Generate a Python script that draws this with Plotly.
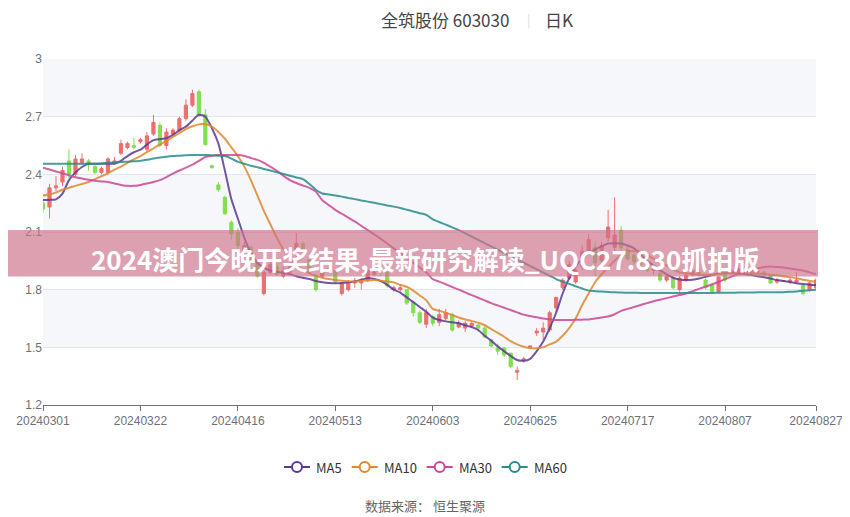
import plotly.graph_objects as go

dates = [
    "20240301", "20240304", "20240305", "20240306", "20240307", "20240308",
    "20240311", "20240312", "20240313", "20240314", "20240315",
    "20240318", "20240319", "20240320", "20240321", "20240322",
    "20240325", "20240326", "20240327", "20240328", "20240329",
    "20240401", "20240402", "20240403", "20240408", "20240409", "20240410",
    "20240411", "20240412", "20240415", "20240416",
    "20240417", "20240418", "20240422", "20240423", "20240424", "20240425",
    "20240426", "20240429", "20240430",
    "20240506", "20240507", "20240508", "20240509", "20240510", "20240513",
    "20240514", "20240515", "20240516", "20240517",
    "20240520", "20240521", "20240522", "20240523", "20240524",
    "20240527", "20240528", "20240529", "20240530", "20240531",
    "20240603", "20240604", "20240605", "20240606", "20240607",
    "20240611", "20240612", "20240613", "20240614",
    "20240617", "20240618", "20240619", "20240620", "20240621",
    "20240624", "20240625", "20240626", "20240628",
    "20240701", "20240702", "20240703", "20240704", "20240705",
    "20240708", "20240709", "20240710", "20240711", "20240712",
    "20240715", "20240716", "20240717", "20240718", "20240719",
    "20240722", "20240723", "20240724", "20240725", "20240726",
    "20240729", "20240730", "20240731", "20240801", "20240802",
    "20240805", "20240806", "20240807", "20240808", "20240809",
    "20240812", "20240813", "20240814", "20240815", "20240816",
    "20240819", "20240820", "20240821", "20240822", "20240823",
    "20240826", "20240827",
]

tick_labels = ["20240301", "20240322", "20240416", "20240513", "20240603",
               "20240625", "20240717", "20240807", "20240827"]

open_ = [2.25, 2.23, 2.33, 2.36, 2.47, 2.40, 2.46, 2.47, 2.44, 2.41,
         2.41, 2.46, 2.51, 2.54, 2.55, 2.57, 2.53, 2.61, 2.655, 2.55,
         2.61, 2.63, 2.69, 2.76, 2.83, 2.71, 2.445, 2.345, 2.28, 2.15,
         2.10, 2.00, 2.02, 1.94, 1.78, 1.89, 1.92, 1.87, 1.89, 1.99,
         2.04, 1.955, 1.87, 1.87, 1.90, 1.90, 1.78, 1.80, 1.835, 1.835,
         1.85, 1.88, 1.90, 1.89, 1.80, 1.80, 1.80, 1.735, 1.68, 1.62,
         1.66, 1.63, 1.65, 1.67, 1.606, 1.60, 1.61, 1.616, 1.60, 1.538,
         1.497, 1.497, 1.47, 1.37, 1.43, 1.50, 1.575, 1.58, 1.59, 1.705,
         1.81, 1.86, 1.84, 1.92, 2.00, 2.02, 1.95, 2.07, 2.02, 2.11,
         2.01, 1.98, 1.94, 1.92, 1.90, 1.886, 1.85, 1.86, 1.80, 1.85,
         1.88, 1.89, 1.85, 1.825, 1.79, 1.886, 1.886, 1.89, 1.91, 1.90,
         1.89, 1.89, 1.876, 1.84, 1.843, 1.84, 1.84, 1.825, 1.80, 1.81]
high = [2.27, 2.35, 2.39, 2.44, 2.53, 2.50, 2.51, 2.48, 2.45, 2.44,
        2.49, 2.49, 2.58, 2.57, 2.59, 2.59, 2.62, 2.71, 2.67, 2.64,
        2.64, 2.70, 2.79, 2.84, 2.84, 2.74, 2.45, 2.36, 2.29, 2.16,
        2.12, 2.05, 2.03, 1.95, 1.90, 1.95, 1.94, 1.92, 1.94, 2.095,
        2.05, 1.96, 1.88, 1.91, 1.93, 1.91, 1.84, 1.85, 1.86, 1.86,
        1.91, 1.90, 1.92, 1.91, 1.82, 1.83, 1.80, 1.74, 1.69, 1.70,
        1.67, 1.70, 1.70, 1.68, 1.64, 1.635, 1.63, 1.62, 1.61, 1.54,
        1.52, 1.50, 1.47, 1.40, 1.45, 1.51, 1.60, 1.63, 1.69, 1.76,
        1.86, 1.95, 1.92, 2.03, 2.09, 2.05, 2.05, 2.215, 2.28, 2.13,
        2.03, 1.99, 1.96, 1.94, 1.92, 1.89, 1.88, 1.87, 1.87, 1.88,
        1.91, 1.91, 1.86, 1.83, 1.87, 1.89, 1.91, 1.93, 1.92, 1.91,
        1.91, 1.90, 1.88, 1.86, 1.85, 1.86, 1.89, 1.83, 1.84, 1.86]
low = [2.20, 2.17, 2.31, 2.34, 2.38, 2.39, 2.45, 2.42, 2.40, 2.40,
       2.40, 2.45, 2.50, 2.53, 2.53, 2.56, 2.52, 2.60, 2.54, 2.53,
       2.60, 2.62, 2.68, 2.75, 2.70, 2.55, 2.43, 2.31, 2.19, 2.06,
       2.00, 1.98, 1.93, 1.86, 1.77, 1.88, 1.87, 1.86, 1.88, 1.97,
       1.99, 1.88, 1.79, 1.86, 1.89, 1.83, 1.77, 1.79, 1.81, 1.80,
       1.84, 1.87, 1.87, 1.81, 1.79, 1.79, 1.72, 1.66, 1.62, 1.60,
       1.61, 1.61, 1.64, 1.58, 1.60, 1.58, 1.60, 1.58, 1.55, 1.50,
       1.46, 1.45, 1.39, 1.33, 1.42, 1.50, 1.56, 1.54, 1.58, 1.68,
       1.80, 1.85, 1.83, 1.90, 1.98, 1.87, 1.94, 2.05, 2.00, 2.00,
       1.95, 1.93, 1.92, 1.89, 1.88, 1.84, 1.84, 1.80, 1.79, 1.84,
       1.87, 1.87, 1.80, 1.78, 1.78, 1.84, 1.88, 1.88, 1.89, 1.88,
       1.88, 1.87, 1.83, 1.83, 1.84, 1.83, 1.83, 1.77, 1.79, 1.80]
close = [2.22, 2.33, 2.34, 2.42, 2.40, 2.48, 2.48, 2.45, 2.41, 2.43,
         2.48, 2.47, 2.56, 2.56, 2.54, 2.58, 2.60, 2.67, 2.55, 2.62,
         2.63, 2.69, 2.76, 2.82, 2.71, 2.555, 2.435, 2.32, 2.195, 2.09,
         2.03, 2.03, 1.95, 1.87, 1.89, 1.93, 1.88, 1.90, 1.92, 2.04,
         2.00, 1.89, 1.80, 1.90, 1.91, 1.84, 1.83, 1.84, 1.845, 1.84,
         1.90, 1.89, 1.89, 1.82, 1.81, 1.81, 1.73, 1.68, 1.63, 1.68,
         1.625, 1.67, 1.68, 1.59, 1.627, 1.625, 1.625, 1.60, 1.554, 1.507,
         1.48, 1.46, 1.40, 1.38, 1.44, 1.507, 1.585, 1.60, 1.68, 1.76,
         1.85, 1.93, 1.90, 2.00, 2.06, 1.94, 2.03, 2.126, 2.085, 2.02,
         1.96, 1.945, 1.93, 1.90, 1.91, 1.85, 1.87, 1.81, 1.86, 1.876,
         1.90, 1.88, 1.81, 1.79, 1.866, 1.85, 1.90, 1.91, 1.90, 1.89,
         1.895, 1.88, 1.835, 1.85, 1.847, 1.85, 1.85, 1.78, 1.835, 1.85]

ma5 = [2.267, 2.267, 2.270, 2.300, 2.370, 2.410, 2.438, 2.455, 2.455, 2.455,
       2.455, 2.455, 2.470, 2.495, 2.515, 2.528, 2.555, 2.578, 2.583, 2.588,
       2.605, 2.630, 2.648, 2.680, 2.710, 2.700, 2.640, 2.560, 2.420, 2.270,
       2.170, 2.070, 1.990, 1.940, 1.915, 1.900, 1.893, 1.887, 1.880, 1.870,
       1.862, 1.855, 1.845, 1.838, 1.835, 1.833, 1.835, 1.838, 1.842, 1.852,
       1.860, 1.855, 1.845, 1.825, 1.800, 1.785, 1.760, 1.735, 1.710, 1.685,
       1.655, 1.642, 1.635, 1.630, 1.625, 1.615, 1.605, 1.590, 1.560, 1.535,
       1.505, 1.480, 1.455, 1.434, 1.430, 1.440, 1.480, 1.530, 1.600, 1.680,
       1.780, 1.860, 1.920, 1.960, 1.990, 2.010, 2.025, 2.040, 2.042, 2.040,
       2.030, 2.015, 1.985, 1.950, 1.925, 1.900, 1.880, 1.862, 1.853, 1.850,
       1.852, 1.858, 1.867, 1.876, 1.885, 1.887, 1.887, 1.885, 1.882, 1.877,
       1.870, 1.865, 1.858, 1.850, 1.845, 1.840, 1.833, 1.830, 1.826, 1.824]
ma10 = [2.290, 2.295, 2.305, 2.320, 2.330, 2.340, 2.350, 2.360, 2.375, 2.390,
        2.405, 2.425, 2.440, 2.460, 2.478, 2.495, 2.515, 2.535, 2.555, 2.575,
        2.595, 2.615, 2.635, 2.650, 2.660, 2.662, 2.648, 2.620, 2.585, 2.540,
        2.495, 2.440, 2.370, 2.290, 2.210, 2.140, 2.070, 2.010, 1.965, 1.925,
        1.900, 1.885, 1.872, 1.862, 1.855, 1.850, 1.847, 1.844, 1.842, 1.845,
        1.848, 1.850, 1.847, 1.843, 1.838, 1.825, 1.815, 1.795, 1.770, 1.745,
        1.700, 1.690, 1.680, 1.668, 1.655, 1.645, 1.637, 1.628, 1.615, 1.595,
        1.575, 1.555, 1.532, 1.515, 1.503, 1.495, 1.495, 1.500, 1.515, 1.530,
        1.560, 1.600, 1.650, 1.720, 1.780, 1.840, 1.880, 1.915, 1.950, 1.980,
        2.000, 2.000, 1.998, 1.980, 1.960, 1.945, 1.925, 1.905, 1.890, 1.885,
        1.880, 1.877, 1.876, 1.878, 1.882, 1.885, 1.885, 1.885, 1.885, 1.885,
        1.884, 1.880, 1.877, 1.875, 1.870, 1.865, 1.860, 1.852, 1.846, 1.840]
ma30 = [2.435, 2.425, 2.415, 2.405, 2.395, 2.385, 2.378, 2.372, 2.367, 2.363,
        2.360, 2.352, 2.345, 2.340, 2.340, 2.345, 2.352, 2.360, 2.370, 2.385,
        2.404, 2.420, 2.435, 2.450, 2.470, 2.490, 2.496, 2.500, 2.500, 2.500,
        2.500, 2.495, 2.485, 2.475, 2.460, 2.440, 2.418, 2.393, 2.370, 2.355,
        2.342, 2.330, 2.310, 2.265, 2.240, 2.215, 2.195, 2.175, 2.155, 2.132,
        2.110, 2.088, 2.064, 2.040, 2.015, 1.990, 1.965, 1.940, 1.915, 1.890,
        1.855, 1.842, 1.828, 1.814, 1.800, 1.786, 1.772, 1.758, 1.744, 1.730,
        1.718, 1.706, 1.694, 1.682, 1.670, 1.663, 1.656, 1.650, 1.646, 1.642,
        1.642, 1.642, 1.643, 1.644, 1.645, 1.650, 1.655, 1.660, 1.672, 1.690,
        1.700, 1.710, 1.720, 1.730, 1.740, 1.748, 1.756, 1.764, 1.772, 1.780,
        1.792, 1.804, 1.816, 1.828, 1.840, 1.855, 1.868, 1.880, 1.890, 1.900,
        1.910, 1.918, 1.920, 1.918, 1.915, 1.910, 1.905, 1.900, 1.890, 1.880]
ma60 = [2.455, 2.455, 2.455, 2.455, 2.455, 2.455, 2.455, 2.455, 2.455, 2.457,
        2.460, 2.462, 2.464, 2.466, 2.468, 2.470, 2.476, 2.482, 2.488, 2.492,
        2.495, 2.497, 2.499, 2.500, 2.500, 2.500, 2.499, 2.497, 2.495, 2.482,
        2.465, 2.455, 2.445, 2.437, 2.428, 2.420, 2.411, 2.402, 2.393, 2.384,
        2.375, 2.350, 2.320, 2.300, 2.295, 2.290, 2.284, 2.277, 2.271, 2.264,
        2.258, 2.252, 2.245, 2.238, 2.232, 2.225, 2.216, 2.207, 2.198, 2.189,
        2.166, 2.152, 2.138, 2.124, 2.110, 2.093, 2.076, 2.059, 2.042, 2.025,
        2.008, 1.991, 1.974, 1.957, 1.940, 1.923, 1.906, 1.889, 1.872, 1.855,
        1.842, 1.830, 1.818, 1.806, 1.795, 1.792, 1.790, 1.788, 1.786, 1.785,
        1.784, 1.784, 1.783, 1.783, 1.783, 1.783, 1.783, 1.783, 1.783, 1.783,
        1.783, 1.783, 1.783, 1.783, 1.784, 1.784, 1.784, 1.785, 1.785, 1.785,
        1.786, 1.786, 1.786, 1.787, 1.787, 1.789, 1.791, 1.794, 1.797, 1.800]

y_ticks = [1.2, 1.5, 1.8, 2.1, 2.4, 2.7, 3.0]
y_tick_text = ["1.2", "1.5", "1.8", "2.1", "2.4", "2.7", "3"]

ma_names = ["MA5", "MA10", "MA30", "MA60"]
ma_values = [ma5, ma10, ma30, ma60]
ma_colors = ["#5b3a94", "#e0882e", "#cc4896", "#2a8c8c"]

UP = "#ee6e6e"
DOWN = "#84dd52"
FONT = "Noto Sans CJK SC"

# page body has an 8px margin; plot area is placed at x 43..816, y 59..405 of the window
OFF = 8
PL, PT, PW, PH = 43, 59, 773, 346


def px(X):
    return (X - PL) / PW


def py(Y):
    return (PT + PH - Y) / PH


fig = go.Figure()
fig.add_trace(go.Candlestick(
    x=dates, open=open_, high=high, low=low, close=close,
    increasing=dict(line=dict(color=UP, width=1), fillcolor=UP),
    decreasing=dict(line=dict(color=DOWN, width=1), fillcolor=DOWN),
    whiskerwidth=0, showlegend=False, hoverinfo="skip",
))
for name, vals, col in zip(ma_names, ma_values, ma_colors):
    fig.add_trace(go.Scatter(
        x=dates, y=vals, mode="lines", name=name, showlegend=False,
        line=dict(color=col, width=2, shape="spline", smoothing=0.6),
        opacity=0.85, hoverinfo="skip",
    ))

shapes = []
for lo, hi in [(2.7, 3.0), (2.1, 2.4), (1.5, 1.8)]:
    shapes.append(dict(type="rect", xref="paper", yref="y", x0=0, x1=1,
                       y0=lo, y1=hi, fillcolor="#f5f7fb", line=dict(width=0),
                       layer="below"))
shapes.append(dict(type="rect", xref="paper", yref="paper",
                   x0=px(0), x1=px(818), y0=py(276.5), y1=py(230),
                   fillcolor="rgba(205,115,138,0.68)", line=dict(width=0),
                   layer="above"))

TITLE_Y = 20
annotations = [
    dict(text="全筑股份 603030", x=px(444.5), y=py(TITLE_Y), xref="paper", yref="paper",
         showarrow=False, font=dict(family=FONT, size=17, color="#444"),
         xanchor="center", yanchor="middle"),
    dict(text="|", x=px(529), y=py(TITLE_Y), xref="paper", yref="paper",
         showarrow=False, font=dict(family=FONT, size=13, color="#dddddd"),
         xanchor="center", yanchor="middle"),
    dict(text="日K", x=px(559), y=py(TITLE_Y), xref="paper", yref="paper",
         showarrow=False, font=dict(family=FONT, size=17, color="#444"),
         xanchor="center", yanchor="middle"),
    dict(text="<b>2024澳门今晚开奖结果,最新研究解读_UQC27.830抓拍版</b>",
         x=px(425), y=py(259), xref="paper", yref="paper", showarrow=False,
         font=dict(family=FONT, size=26, color="white"),
         xanchor="center", yanchor="middle"),
    dict(text="数据来源： 恒生聚源", x=px(425), y=py(506), xref="paper",
         yref="paper", showarrow=False,
         font=dict(family=FONT, size=13, color="#666"),
         xanchor="center", yanchor="middle"),
]

# custom legend (line + hollow circle + label), like the reference
legend_y = py(467)
legend_icon_x = [284, 351.7, 426.7, 501.7]
for name, col, x0 in zip(ma_names, ma_colors, legend_icon_x):
    shapes.append(dict(type="line", xref="paper", yref="paper",
                       x0=px(x0), x1=px(x0 + 26), y0=legend_y, y1=legend_y,
                       line=dict(color=col, width=2)))
    shapes.append(dict(type="circle", xref="paper", yref="paper",
                       xsizemode="pixel", ysizemode="pixel",
                       xanchor=px(x0 + 13), yanchor=legend_y,
                       x0=-5, x1=5, y0=-5, y1=5,
                       fillcolor="white", line=dict(color=col, width=2)))
    annotations.append(dict(text=name, x=px(x0 + 30), y=legend_y,
                            xref="paper", yref="paper", showarrow=False,
                            xanchor="left", yanchor="middle",
                            font=dict(family=FONT, size=13, color="#333")))

fig.update_layout(
    width=850 - OFF, height=517 - OFF,
    margin=dict(l=PL - OFF, r=850 - PL - PW, t=PT - OFF,
                b=517 - OFF - (PT - OFF) - PH, autoexpand=False),
    paper_bgcolor="white", plot_bgcolor="white",
    shapes=shapes, annotations=annotations,
    showlegend=False,
    xaxis=dict(type="category", categoryorder="array", categoryarray=dates,
               range=[0, len(dates) - 1], tickmode="array",
               tickvals=tick_labels, ticktext=tick_labels, automargin=False,
               showgrid=False, showline=True, linecolor="#6e7079",
               ticks="outside", ticklen=5, tickcolor="#6e7079",
               tickfont=dict(family="Liberation Sans", size=12, color="#6e7079"),
               rangeslider=dict(visible=False), zeroline=False),
    yaxis=dict(range=[1.2, 3.0], tickmode="array", tickvals=y_ticks,
               ticktext=y_tick_text, showgrid=True, gridcolor="#e0e6f1",
               gridwidth=1, showline=False, zeroline=False, ticks="",
               automargin=False,
               tickfont=dict(family="Liberation Sans", size=12, color="#6e7079")),
)

fig.write_html("out.html")
